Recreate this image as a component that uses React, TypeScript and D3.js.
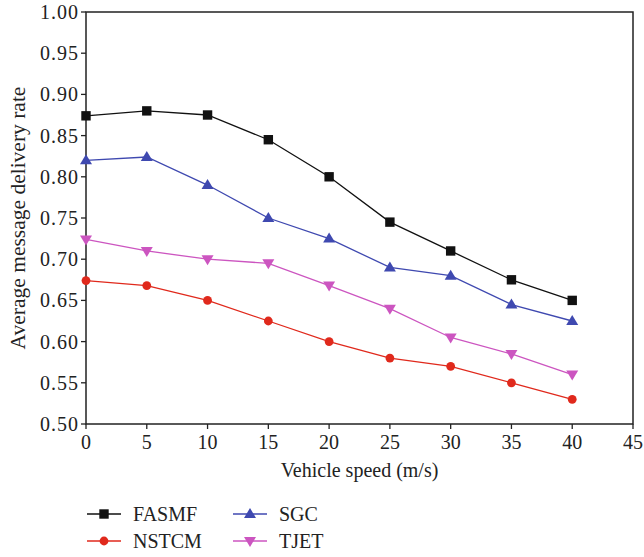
import React from "react";
import * as d3 from "d3";

const speeds = [0, 5, 10, 15, 20, 25, 30, 35, 40];
const fasmf = [0.874, 0.88, 0.875, 0.845, 0.8, 0.745, 0.71, 0.675, 0.65];
const sgc = [0.82, 0.824, 0.79, 0.75, 0.725, 0.69, 0.68, 0.645, 0.625];
const tjet = [0.724, 0.71, 0.7, 0.695, 0.668, 0.64, 0.605, 0.585, 0.56];
const nstcm = [0.674, 0.668, 0.65, 0.625, 0.6, 0.58, 0.57, 0.55, 0.53];
const xTicks = [0, 5, 10, 15, 20, 25, 30, 35, 40, 45];
const yTicks = [0.5, 0.55, 0.6, 0.65, 0.7, 0.75, 0.8, 0.85, 0.9, 0.95, 1.0];

const seriesNames = ["FASMF", "NSTCM", "SGC", "TJET"];
const seriesValues = [fasmf, nstcm, sgc, tjet];
const seriesColors = ["#111111", "#e0291c", "#3f49b0", "#cc55c0"];
const seriesMarkers = ["square", "circle", "triangle", "triangleDown"];

const W = 644, H = 557;
const left = 86, right = 633, top = 12, bottom = 424;
const FONT = "'Liberation Serif', 'Times New Roman', serif";

function Marker({ type, x, y, color }: { type: string; x: number; y: number; color: string }) {
  if (type === "square") return <rect x={x - 4.7} y={y - 4.7} width={9.4} height={9.4} fill={color} />;
  if (type === "circle") return <circle cx={x} cy={y} r={4.4} fill={color} />;
  if (type === "triangle")
    return <path d={`M${x},${y - 6}L${x + 6},${y + 4}L${x - 6},${y + 4}Z`} fill={color} />;
  return <path d={`M${x},${y + 6}L${x + 6},${y - 4}L${x - 6},${y - 4}Z`} fill={color} />;
}

export default function App() {
  const x = d3.scaleLinear().domain([0, 45]).range([left, right]);
  const y = d3.scaleLinear().domain([0.5, 1.0]).range([bottom, top]);
  const line = d3
    .line<number>()
    .x((_, i) => x(speeds[i]))
    .y((d) => y(d));

  const legendPos = [
    { lx: 87, ly: 514 },
    { lx: 87, ly: 541 },
    { lx: 233, ly: 514 },
    { lx: 233, ly: 541 },
  ];

  return (
    <div style={{ position: "absolute", left: 0, top: 0 }}>
      <svg width={W} height={H} style={{ display: "block", background: "#fff" }} fontFamily={FONT}>
        <rect x={left} y={top} width={right - left} height={bottom - top} fill="none" stroke="#222" strokeWidth={1.5} />
        {yTicks.map((t) => (
          <g key={"y" + t}>
            <line x1={left - 5} x2={left} y1={y(t)} y2={y(t)} stroke="#222" strokeWidth={1.3} />
            <text x={left - 7} y={y(t)} dy="0.35em" textAnchor="end" fontSize={20} fill="#222" letterSpacing={1}>
              {t.toFixed(2)}
            </text>
          </g>
        ))}
        {xTicks.map((t) => (
          <g key={"x" + t}>
            <line x1={x(t)} x2={x(t)} y1={bottom} y2={bottom + 5} stroke="#222" strokeWidth={1.3} />
            <text x={x(t)} y={449} textAnchor="middle" fontSize={20} fill="#222">
              {t}
            </text>
          </g>
        ))}
        <text x={(left + right) / 2} y={477} textAnchor="middle" fontSize={20} fill="#222">
          Vehicle speed (m/s)
        </text>
        <text
          transform={`translate(25,${(top + bottom) / 2}) rotate(-90)`}
          textAnchor="middle"
          fontSize={21.5}
          fill="#222"
        >
          Average message delivery rate
        </text>
        {seriesValues.map((vals, si) => (
          <g key={seriesNames[si]}>
            <path d={line(vals) || ""} fill="none" stroke={seriesColors[si]} strokeWidth={1.3} />
            {vals.map((v, i) => (
              <Marker key={i} type={seriesMarkers[si]} x={x(speeds[i])} y={y(v)} color={seriesColors[si]} />
            ))}
          </g>
        ))}
        {seriesNames.map((name, si) => {
          const { lx, ly } = legendPos[si];
          return (
            <g key={"lg" + name}>
              <line x1={lx} x2={lx + 34} y1={ly} y2={ly} stroke={seriesColors[si]} strokeWidth={1.5} />
              <Marker type={seriesMarkers[si]} x={lx + 17} y={ly} color={seriesColors[si]} />
              <text x={lx + 46} y={ly + 7} fontSize={20} fill="#222">
                {name}
              </text>
            </g>
          );
        })}
      </svg>
    </div>
  );
}
